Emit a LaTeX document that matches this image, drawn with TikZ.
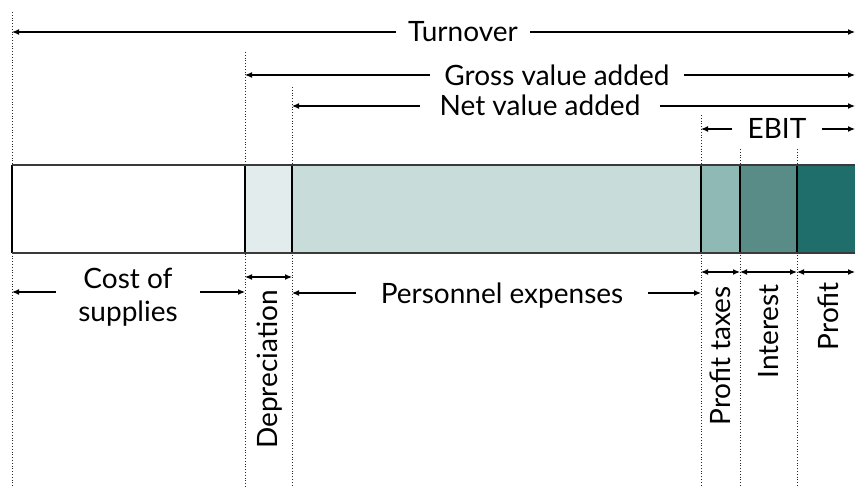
\documentclass[tikz,border=0pt]{standalone}
\usepackage{fontspec}
\setmainfont{Lato}
\usetikzlibrary{arrows.meta}
\definecolor{depcol}{HTML}{E2ECEC}
\definecolor{perscol}{HTML}{C8DCDA}
\definecolor{taxcol}{HTML}{8FB9B5}
\definecolor{intcol}{HTML}{5A8C87}
\definecolor{profcol}{HTML}{1F6E6C}
\definecolor{rimcol}{HTML}{3A3A3A}
\tikzset{
  lbl/.style={font=\fontsize{28}{33}\selectfont, inner xsep=12pt, inner ysep=0pt,
              text height=20pt, text depth=0pt},
  vlbl/.style={lbl, inner xsep=0pt, rotate=90, anchor=east},
  guide/.style={dotted, line width=0.8pt, black!85},
  span/.style={line width=1.2pt, -{Latex[length=7pt,width=6pt]}},
  both/.style={line width=1.2pt, {Latex[length=7pt,width=6pt]}-{Latex[length=7pt,width=6pt]}},
  seg/.style={line width=1.3pt}
}
\begin{document}
\begin{tikzpicture}[x=1pt, y=-1pt]
\useasboundingbox (0,0) rectangle (855,487);

% column positions
\coordinate (g0) at (12,0);
\coordinate (g1) at (245,0);
\coordinate (g2) at (292,0);
\coordinate (g3) at (701,0);
\coordinate (g4) at (740,0);
\coordinate (g5) at (797,0);
\coordinate (g6) at (855,0);

% dotted guide lines
\draw[guide] (12,12) -- (12,487);
\draw[guide] (245,52) -- (245,487);
\draw[guide] (292,87) -- (292,487);
\draw[guide] (701,115) -- (701,487);
\draw[guide] (740,149) -- (740,487);
\draw[guide] (797,149) -- (797,487);

% the bar
\fill[white]   (12,165)  rectangle (245,253);
\fill[depcol]  (245,165) rectangle (292,253);
\fill[perscol] (292,165) rectangle (701,253);
\fill[taxcol]  (701,165) rectangle (740,253);
\fill[intcol]  (740,165) rectangle (797,253);
\fill[profcol] (797,165) rectangle (860,253);
\foreach \x in {12,245,292,701,740,797}
  \draw[seg, black] (\x,165) -- (\x,253);
\draw[line width=2pt, rimcol] (12,165) -- (860,165);
\draw[line width=2pt, rimcol] (12,253) -- (860,253);

% spans above the bar
\node[lbl] (turn) at (463,32) {Turnover};
\draw[span] (turn.west) -- (g0 |- turn);
\draw[span] (turn.east) -- (g6 |- turn);

\node[lbl, inner xsep=14pt] (gva) at (557,75) {Gross value added};
\draw[span] (gva.west) -- (g1 |- gva);
\draw[span] (gva.east) -- (g6 |- gva);

\node[lbl, inner xsep=19pt] (nva) at (540,106) {Net value added};
\draw[span] (nva.west) -- (g2 |- nva);
\draw[span] (nva.east) -- (g6 |- nva);

\node[lbl, inner xsep=15pt] (ebit) at (777,129) {EBIT};
\draw[span] (ebit.west) -- (g3 |- ebit);
\draw[span] (ebit.east) -- (g6 |- ebit);

% spans below the bar
\node[lbl, inner xsep=22pt] (costa) at (128,278) {Cost of};
\node[lbl, inner xsep=22pt] (costb) at (128,311) {supplies};
\coordinate (cy) at (0,292);
\draw[span] (costb.west |- cy) -- (g0 |- cy);
\draw[span] (costb.east |- cy) -- (g1 |- cy);

\node[lbl, inner xsep=25pt] (pers) at (502,293) {Personnel expenses};
\draw[span] (pers.west) -- (g2 |- pers);
\draw[span] (pers.east) -- (g3 |- pers);

\coordinate (dy) at (0,277);
\coordinate (sy) at (0,272);
\draw[both] (g1 |- dy) -- (g2 |- dy);
\draw[both] (g3 |- sy) -- (g4 |- sy);
\draw[both] (g4 |- sy) -- (g5 |- sy);
\draw[both] (g5 |- sy) -- (g6 |- sy);

\node[vlbl] (dep) at (267,290) {Depreciation};
\node[vlbl] (tax) at (720.5,286) {Profit taxes};
\node[vlbl] (int) at (768,284) {Interest};
\node[vlbl] (prof) at (828,282) {Profit};
\end{tikzpicture}
\end{document}
